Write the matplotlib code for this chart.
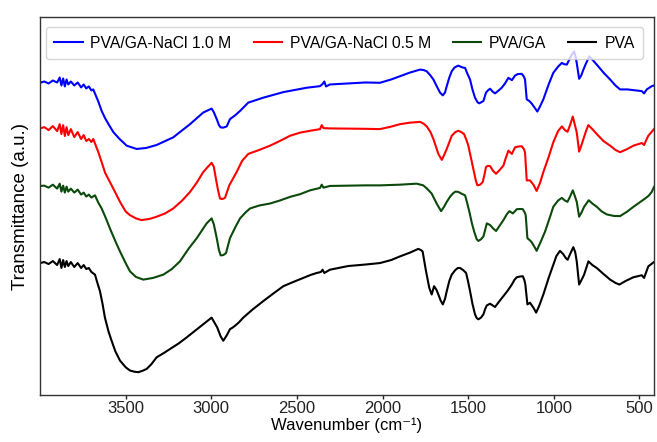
import matplotlib
matplotlib.use("Agg")
import matplotlib.pyplot as plt

plt.rcParams['font.family'] = ['Liberation Sans', 'DejaVu Sans']

labels = ["PVA/GA-NaCl 1.0 M", "PVA/GA-NaCl 0.5 M", "PVA/GA", "PVA"]
colors = ["#0000ff", "#ff0000", "#0b4a0b", "#000000"]

# PVA/GA-NaCl 1.0 M
wn_blue = [4000, 3975, 3950, 3925, 3900, 3885, 3875, 3865, 3855, 3845, 3835, 3820, 3800, 3780, 3760, 3745, 3730, 3715, 3700,
           3689, 3660, 3640, 3620, 3600, 3572, 3535, 3494, 3436, 3380, 3319, 3222, 3124, 3047, 2998, 2985, 2968, 2955, 2945,
           2930, 2910, 2891, 2860, 2832, 2784, 2696, 2579, 2443, 2365, 2350, 2340, 2330, 2307, 2200, 2100, 2015, 1950, 1898,
           1840, 1800, 1781, 1760, 1742, 1720, 1703, 1680, 1664, 1648, 1635, 1625, 1610, 1596, 1580, 1570, 1557, 1545, 1530,
           1518, 1505, 1489, 1475, 1460, 1445, 1435, 1420, 1411, 1396, 1385, 1372, 1355, 1343, 1325, 1304, 1285, 1265, 1245,
           1226, 1210, 1187, 1175, 1168, 1158, 1143, 1130, 1119, 1096, 1080, 1061, 1030, 1003, 975, 953, 940, 924, 910, 895,
           881, 873, 866, 852, 840, 827, 810, 792, 770, 749, 710, 671, 640, 613, 570, 535, 486, 473, 465, 457, 440, 428, 415]
t_blue = [314.7, 316, 314, 317, 315, 320, 312, 319, 311, 318, 313, 316, 312, 315, 310, 313, 309, 311, 307,
          308, 296, 286.3, 279, 273, 265, 258, 251.3, 248, 249, 252, 259.7, 273, 284.7, 288.7, 285, 278, 272, 269.7,
          269.5, 270.7, 278, 282, 286.3, 294.7, 299.7, 305.3, 309.7, 311.3, 313.5, 316, 311, 313, 314, 315, 314.7, 318, 321.3,
          325, 327, 328, 327.5, 326.3, 322, 318, 310, 304.7, 302, 305, 311.3, 320, 326.3, 330, 331, 332, 331, 330,
          329.7, 324, 318, 308, 299.7, 295, 294, 295.5, 296.3, 304.7, 307, 308.7, 305.5, 304, 306.5, 309.7, 314, 319.7, 317.3,
          322, 323.5, 323.7, 321, 318, 298, 296.3, 294, 291.3, 285.7, 291, 298, 313, 324.7, 331, 334.7, 333.5, 333, 338, 343,
          346.3, 341, 334.7, 318.7, 322, 328, 335, 341.3, 337, 333, 325, 318, 312, 308, 308, 307.3, 306.3, 304, 306, 308, 310, 311.3, 312]

# PVA/GA-NaCl 0.5 M
wn_red = [4000, 3975, 3950, 3925, 3900, 3885, 3875, 3865, 3855, 3845, 3835, 3820, 3800, 3780, 3760, 3745, 3730, 3715, 3700,
          3689, 3660, 3640, 3620, 3592, 3560, 3533, 3500, 3475, 3440, 3407, 3360, 3319, 3270, 3222, 3170, 3124, 3085, 3047,
          3020, 2998, 2985, 2973, 2960, 2949, 2935, 2920, 2895, 2852, 2820, 2784, 2720, 2657, 2600, 2540, 2480, 2423, 2365,
          2355, 2345, 2307, 2200, 2100, 2015, 1950, 1898, 1840, 1781, 1760, 1742, 1720, 1703, 1674, 1654, 1640, 1625, 1610,
          1596, 1575, 1557, 1540, 1524, 1510, 1499, 1485, 1470, 1455, 1446, 1430, 1415, 1405, 1396, 1385, 1372, 1355, 1337,
          1315, 1294, 1280, 1265, 1245, 1226, 1205, 1187, 1175, 1168, 1158, 1139, 1119, 1100, 1080, 1061, 1030, 1003, 975,
          953, 935, 920, 905, 889, 878, 866, 852, 840, 827, 812, 798, 775, 749, 710, 671, 640, 613, 570, 535, 486, 473, 460,
          448, 430, 415]
t_red = [268.7, 270, 267, 271, 266, 273, 263, 272, 261, 270, 262, 268, 260, 265, 258, 262, 256, 258, 255,
         258, 245, 234.7, 224, 214.7, 204, 194.7, 185, 181.3, 178, 176.3, 177.5, 179.7, 183, 188, 196, 204.7, 214, 224.7,
         230, 234, 230, 218, 206, 198, 197.5, 198.7, 211.3, 224.7, 236, 243, 247, 251.3, 256, 261.3, 264.5, 266.3, 268,
         272, 269, 268.7, 268.5, 268.3, 268, 270.5, 273, 274.5, 275.3, 273.5, 270.7, 265, 258, 243, 237, 242, 248, 255,
         261.3, 265, 266.3, 265, 263, 257, 251.3, 240, 228, 216, 211.3, 212, 214.7, 222, 229.7, 231, 230.7, 226, 223,
         227, 231.3, 239, 246.3, 243, 249.7, 250.5, 250.7, 248, 244.7, 216.3, 216.3, 212, 205.7, 214, 224.7, 240, 254.7, 266,
         270.7, 267, 265.3, 272, 280.7, 273, 264.7, 245.3, 251, 258, 266, 272, 268, 263, 256, 251.3, 247, 244.7, 248, 251.3, 254, 252, 257,
         261.3, 265, 268]

# PVA/GA
wn_green = [4000, 3975, 3950, 3925, 3900, 3885, 3875, 3865, 3855, 3845, 3835, 3820, 3800, 3780, 3760, 3745, 3730, 3715, 3700,
            3679, 3660, 3640, 3615, 3592, 3560, 3533, 3500, 3475, 3440, 3397, 3340, 3280, 3230, 3183, 3130, 3085, 3050, 3027,
            2998, 2985, 2968, 2955, 2945, 2930, 2914, 2891, 2860, 2832, 2800, 2774, 2720, 2657, 2600, 2540, 2480, 2423, 2365,
            2355, 2345, 2307, 2200, 2100, 2015, 1898, 1801, 1762, 1740, 1713, 1684, 1658, 1640, 1625, 1605, 1590, 1575, 1557,
            1540, 1518, 1505, 1493, 1478, 1465, 1450, 1440, 1425, 1411, 1400, 1391, 1372, 1355, 1337, 1315, 1294, 1275, 1259,
            1239, 1216, 1195, 1181, 1170, 1164, 1154, 1140, 1129, 1115, 1100, 1075, 1051, 1025, 1003, 975, 953, 935, 920, 905,
            889, 878, 866, 852, 838, 823, 796, 775, 749, 720, 690, 650, 613, 570, 535, 500, 467, 445, 428, 415]
t_green = [210.7, 211, 209, 212, 208, 213, 205, 211, 204, 210, 205, 208, 204, 207, 202, 204, 200, 202, 199,
           201.3, 194, 188, 178, 168, 155, 144.7, 133, 124.7, 119, 116.3, 118, 121.3, 127, 134.7, 148, 158, 167, 173,
           178, 172, 158, 146, 140.7, 141, 143, 158, 169, 178, 184, 188, 191, 193, 196, 199.7, 202.5, 206.3, 208.7,
           212, 209, 210.7, 211, 211.3, 211.3, 212, 213, 211.3, 208, 203, 193, 185.3, 190, 194.7, 200, 203, 205, 204.7,
           203, 201.3, 193, 184.7, 173, 164.7, 157, 155.3, 157, 159.7, 167, 173, 171.3, 168, 165.3, 171, 176.3, 182, 185.3,
           183, 187.3, 187.5, 187.3, 184, 181.3, 158, 156, 154, 150, 145.3, 155, 164.7, 178, 189.7, 196, 198.7, 196, 194.7, 200,
           206.3, 201, 194.7, 179.7, 184, 189.7, 196.3, 193, 189.7, 185, 182, 180.5, 180.3, 185, 189.7, 194, 198, 201, 204.7, 209.7]

# PVA
wn_black = [4000, 3975, 3950, 3925, 3900, 3885, 3875, 3865, 3855, 3845, 3835, 3820, 3800, 3780, 3760, 3745, 3730, 3715, 3700,
            3679, 3665, 3650, 3635, 3621, 3600, 3582, 3560, 3533, 3500, 3475, 3450, 3426, 3400, 3377, 3350, 3319, 3280, 3241,
            3190, 3144, 3100, 3047, 3020, 2998, 2985, 2965, 2945, 2930, 2910, 2891, 2875, 2862, 2840, 2813, 2760, 2696, 2640,
            2579, 2520, 2462, 2420, 2384, 2360, 2350, 2340, 2307, 2200, 2100, 2015, 1950, 1898, 1840, 1791, 1775, 1766, 1746,
            1735, 1727, 1713, 1699, 1685, 1674, 1660, 1648, 1635, 1625, 1610, 1596, 1575, 1560, 1547, 1530, 1512, 1500, 1489,
            1475, 1460, 1450, 1440, 1425, 1411, 1400, 1391, 1372, 1355, 1343, 1320, 1294, 1270, 1245, 1230, 1216, 1195, 1181,
            1172, 1166, 1154, 1139, 1119, 1103, 1085, 1061, 1030, 1003, 985, 964, 945, 930, 919, 905, 886, 875, 866, 852, 838,
            823, 798, 775, 749, 710, 671, 640, 617, 580, 535, 486, 473, 460, 448, 430, 415]
t_black = [133, 134, 132, 135, 131, 137, 128, 136, 129, 135, 130, 134, 129, 133, 128, 131, 127, 128, 124,
           121.3, 113, 104.7, 92, 78, 64, 54.7, 44, 34.7, 28, 24.7, 23.5, 23, 24.5, 26.3, 31, 38, 42, 46.3,
           52, 58, 64, 71.3, 75, 78, 74, 68, 59, 54.7, 60, 66.3, 68, 69.7, 73, 78, 86, 94.7, 102,
           109.7, 114, 118, 121, 123, 124, 126.3, 123, 126.3, 130, 131.5, 133, 136, 139.7, 143.5, 147.3, 146, 144.7, 124.7,
           115, 108, 101.3, 109.7, 106, 101.3, 95, 91.3, 97, 104.7, 115, 121.3, 126, 128, 128, 126, 123, 114, 104.7,
           92, 81.3, 77.5, 76.3, 78, 81.3, 87, 90.3, 92, 90, 88.7, 94, 99.7, 105, 111.3, 116, 118.7, 119.5, 119.7,
           116, 111.3, 91.3, 93, 88, 83, 90, 101.3, 118, 131.3, 140, 145.3, 142, 138, 136.3, 142, 149, 144, 134.7, 111.3, 116,
           121.3, 134.7, 131, 128, 122, 116.3, 113, 111.3, 115, 118.7, 120.7, 118, 124, 129.7, 132, 134]

series = [(wn_blue, t_blue), (wn_red, t_red), (wn_green, t_green), (wn_black, t_black)]

fig = plt.figure(figsize=(6.57, 4.42), dpi=100)
ax = fig.add_axes([0.0609, 1 - 395 / 442, 0.9345, (395 - 17) / 442])

for (x, y), lab, c in zip(series, labels, colors):
    ax.plot(x, y, color=c, lw=1.5, label=lab)

ax.set_xlim(4000, 415)
ax.set_ylim(0, 381)
ax.set_xticks([3500, 3000, 2500, 2000, 1500, 1000, 500])
ax.set_yticks([])
ax.tick_params(axis='x', labelsize=12, length=3, width=1, pad=1.5, colors='#222222')
for s in ax.spines.values():
    s.set_color('#333333')
    s.set_linewidth(1.0)

ax.set_xlabel("Wavenumber (cm\u207b\u00b9)", fontsize=12, labelpad=0.8)
ax.set_ylabel("Transmittance (a.u.)", fontsize=13.5, labelpad=8)

leg = ax.legend(loc='upper center', bbox_to_anchor=(0.496, 0.973), borderaxespad=0, ncol=4, fontsize=11.3,
                frameon=True, handlelength=1.8, columnspacing=1.4, handletextpad=0.5,
                borderpad=0.55, fancybox=True)
leg.get_frame().set_edgecolor('#cccccc')
leg.get_frame().set_linewidth(1.0)

fig.savefig("out.png", dpi=100)
